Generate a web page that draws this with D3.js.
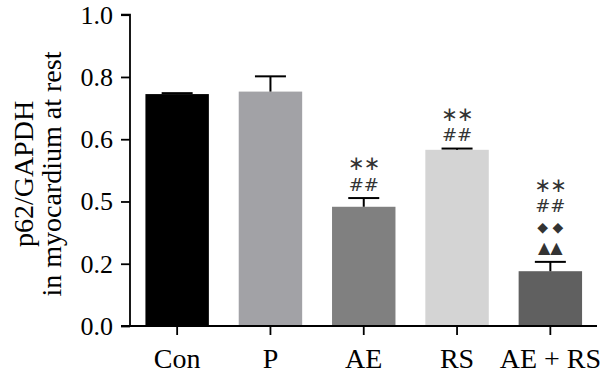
<!DOCTYPE html>
<html><head><meta charset="utf-8">
<script src="https://cdn.jsdelivr.net/npm/d3@7"></script>
<style>body{margin:0;background:#fff;} svg{display:block;}</style>
</head><body>
<script>
const categories = ["Con", "P", "AE", "RS", "AE + RS"];
const means = [0.745, 0.753, 0.383, 0.566, 0.176];
const errors = [0.003, 0.049, 0.028, 0.004, 0.030];
const barColors = ["#000000", "#a2a2a6", "#808080", "#d4d4d4", "#606060"];
const tickValues = [0, 0.2, 0.4, 0.6, 0.8, 1.0];
const tickLabels = ["0.0", "0.2", "0.5", "0.6", "0.8", "1.0"];
const marks = [[], [], ["∗∗", "##"], ["∗∗", "##"], ["∗∗", "##", "◆ ◆", "▲▲"]];

const W = 600, H = 379;
const svg = d3.select("body").append("svg").attr("width", W).attr("height", H);
const x0 = 130, yBottom = 326, yTop = 14.7;
const x = d3.scaleBand().domain(categories).range([x0 + 0.5, 597]).paddingInner(0.32).paddingOuter(0.16);
const y = d3.scaleLinear().domain([0, 1]).range([yBottom, yTop]);

// bars
svg.selectAll("rect.bar").data(categories).enter().append("rect")
  .attr("x", d => x(d)).attr("width", x.bandwidth())
  .attr("y", (d, i) => y(means[i])).attr("height", (d, i) => yBottom - y(means[i]))
  .attr("fill", (d, i) => barColors[i]);

// error bars + significance marks
const capW = 31;
function markSize(t) {
  if (t.includes("∗")) return 20;
  if (t.includes("#")) return 18;
  if (t.includes("◆")) return 14;
  return 16;
}
categories.forEach((c, i) => {
  const cx = x(c) + x.bandwidth() / 2;
  const top = y(means[i] + errors[i]);
  svg.append("line").attr("x1", cx).attr("x2", cx).attr("y1", y(means[i])).attr("y2", top)
    .attr("stroke", "#000").attr("stroke-width", 2);
  svg.append("line").attr("x1", cx - capW / 2).attr("x2", cx + capW / 2).attr("y1", top).attr("y2", top)
    .attr("stroke", "#000").attr("stroke-width", 2);
  const rows = marks[i].slice().reverse();
  rows.forEach((t, k) => {
    svg.append("text").attr("x", cx).attr("y", top - 14 - k * 21)
      .attr("text-anchor", "middle").attr("dominant-baseline", "central")
      .attr("font-family", "DejaVu Sans, sans-serif")
      .attr("font-size", markSize(t))
      .attr("letter-spacing", t.includes("∗") ? -1 : 0)
      .attr("fill", "#333")
      .text(t);
  });
});

// axes
const yAxis = d3.axisLeft(y).tickValues(tickValues).tickSize(9).tickPadding(8)
  .tickFormat((d, i) => tickLabels[i]);
const gy = svg.append("g").attr("transform", `translate(${x0},0)`).call(yAxis);
gy.select(".domain").attr("d", `M-9,${yTop}H0V${yBottom}H-9`).attr("stroke-width", 1.8);
gy.selectAll(".tick line").attr("stroke-width", 1.8);
gy.selectAll(".tick text").attr("font-family", "Liberation Serif, serif").attr("font-size", 26).attr("fill", "#000");

const xAxis = d3.axisBottom(x).tickSize(9).tickPadding(13);
const gx = svg.append("g").attr("transform", `translate(0,${yBottom})`).call(xAxis);
gx.select(".domain").attr("d", `M${x0},0H597`).attr("stroke-width", 1.8);
gx.selectAll(".tick line").attr("stroke-width", 1.8);
gx.selectAll(".tick text").attr("font-family", "Liberation Serif, serif").attr("font-size", 28).attr("fill", "#000");

// y title
const title = svg.append("text").attr("transform", "translate(33,174) rotate(-90)")
  .attr("text-anchor", "middle").attr("font-family", "Liberation Serif, serif").attr("font-size", 28).attr("fill", "#000");
title.append("tspan").attr("x", 0).attr("dy", "0").text("p62/GAPDH");
title.append("tspan").attr("x", 0).attr("dy", "28").text("in myocardium at rest");
</script>
</body></html>
